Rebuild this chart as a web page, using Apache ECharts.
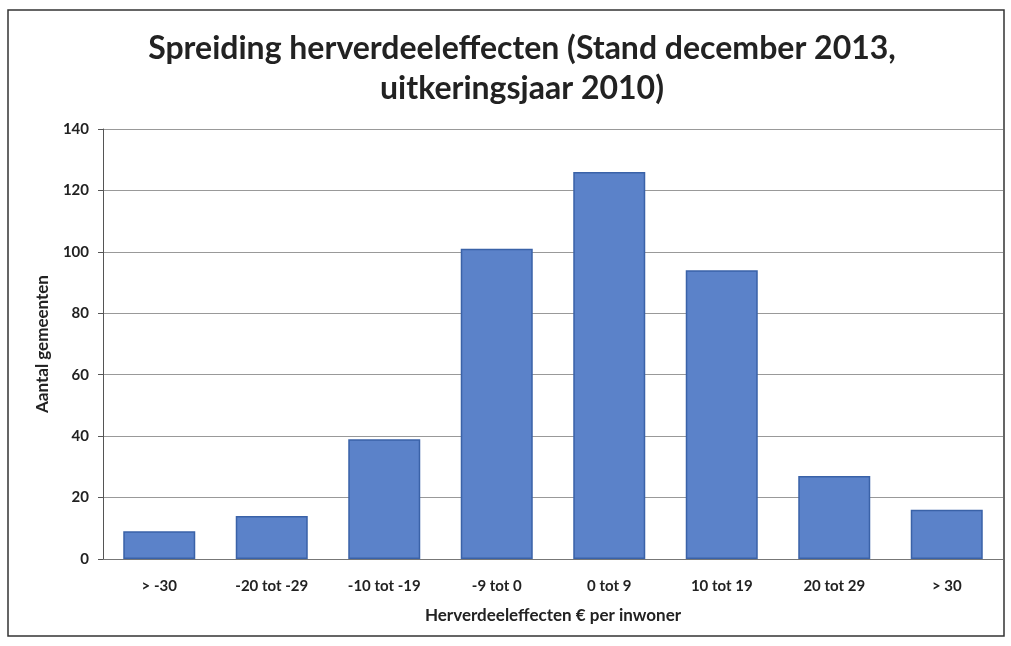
<!DOCTYPE html>
<html><head><meta charset="utf-8">
<script src="https://cdn.jsdelivr.net/npm/echarts@6/dist/echarts.min.js"></script>
<style>html,body{margin:0;padding:0;background:#fff}#c{width:1011px;height:646px}</style>
</head><body><div id="c"></div>
<script>
const categories = ['> -30', '-20 tot -29', '-10 tot -19', '-9 tot 0', '0 tot 9', '10 tot 19', '20 tot 29', '> 30'];
const values = [9, 14, 39, 101, 126, 94, 27, 16];
const yTicks = { min: 0, max: 140, interval: 20 };
const titleText = 'Spreiding herverdeeleffecten (Stand december 2013,\nuitkeringsjaar 2010)';
const xName = 'Herverdeeleffecten € per inwoner';
const yName = 'Aantal gemeenten';

const font = 'Lato';
const chart = echarts.init(document.getElementById('c'));
chart.setOption({
  animation: false,
  backgroundColor: '#fff',
  graphic: [{ type: 'rect', shape: { x: 8, y: 10, width: 996, height: 626 }, style: { fill: 'none', stroke: '#333', lineWidth: 1.5 } }],
  title: { text: titleText, left: 517, top: 24, textAlign: 'center', textStyle: { fontFamily: font, fontWeight: 'bold', fontSize: 32, lineHeight: 40, color: '#222' } },
  grid: { left: 103, right: 8, top: 129, bottom: 87 },
  xAxis: {
    type: 'category', data: categories,
    name: xName, nameLocation: 'middle', nameGap: 48,
    nameTextStyle: { fontFamily: font, fontWeight: 'bold', fontSize: 17, color: '#222' },
    axisLine: { lineStyle: { color: '#777' } }, axisTick: { show: false },
    axisLabel: { fontFamily: font, fontWeight: 'bold', fontSize: 15, color: '#222', margin: 20 }
  },
  yAxis: {
    type: 'value', min: yTicks.min, max: yTicks.max, interval: yTicks.interval,
    name: yName, nameLocation: 'middle', nameGap: 52, nameRotate: 90,
    nameTextStyle: { fontFamily: font, fontWeight: 'bold', fontSize: 17, color: '#222' },
    axisLine: { show: true, lineStyle: { color: '#555' } },
    axisTick: { show: true, length: 5, lineStyle: { color: '#555' } },
    splitLine: { lineStyle: { color: '#999' } },
    axisLabel: { fontFamily: font, fontWeight: 'bold', fontSize: 15, color: '#222', margin: 14 }
  },
  series: [{
    type: 'bar', data: values, barCategoryGap: '36%',
    itemStyle: { color: '#5b82c9', borderColor: '#3a62a8', borderWidth: 1.5 }
  }]
});
</script></body></html>
